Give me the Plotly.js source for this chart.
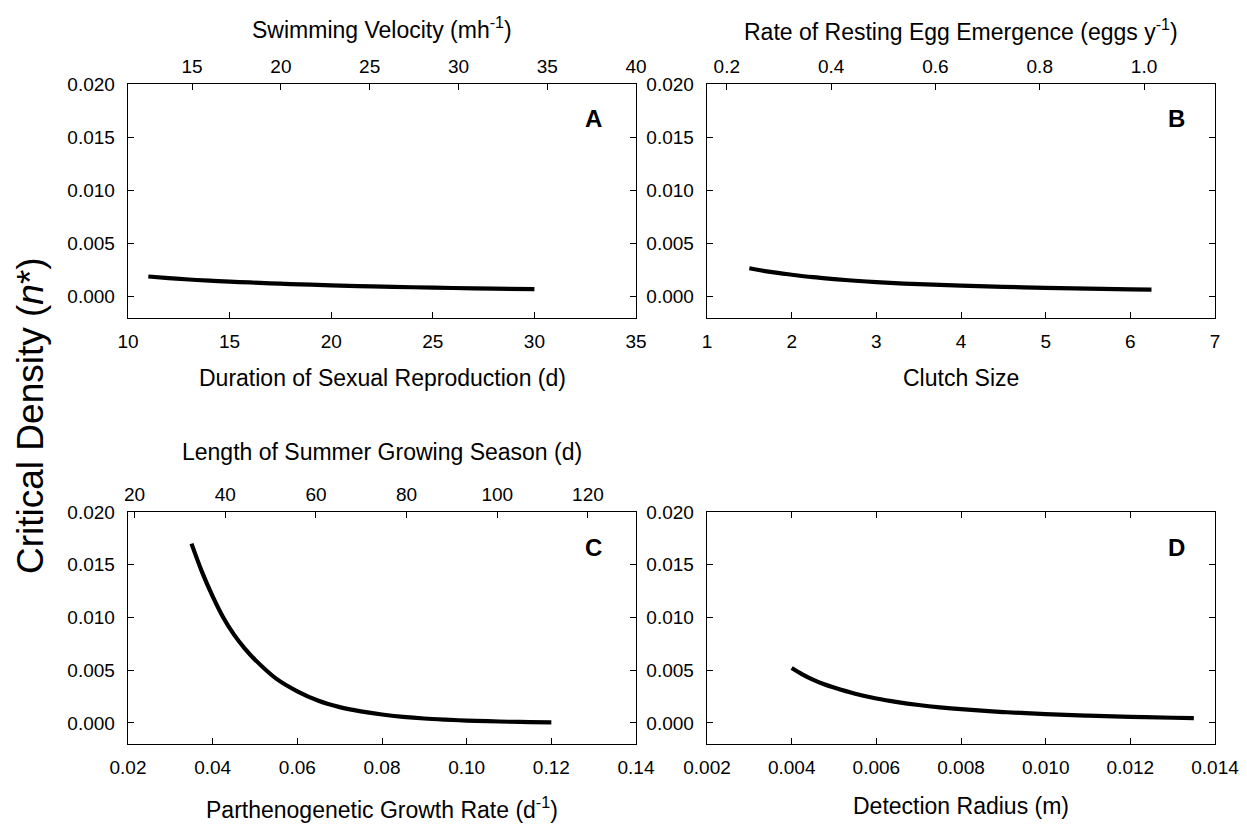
<!DOCTYPE html>
<html>
<head>
<meta charset="utf-8">
<script src="https://cdn.plot.ly/plotly-3.0.1.min.js"></script>
<style>html,body{margin:0;padding:0;background:#fff;} #chart{width:1247px;height:825px;}</style>
</head>
<body>
<div id="chart"></div>
<script>
// ---- data ----
const durationX = [11,12,13,14,15,16,17,18,19,20,22,24,26,28,30];
const durationY = [0.00190,0.00175,0.00162,0.00151,0.00142,0.00134,0.00126,0.00119,0.00113,0.00107,0.00097,0.00089,0.00082,0.00076,0.00071];

const clutchX = [1.5,1.75,2,2.25,2.5,2.75,3,3.5,4,4.5,5,5.5,6,6.25];
const clutchY = [0.00268,0.00233,0.00207,0.00184,0.00166,0.00150,0.00137,0.00118,0.00104,0.00093,0.00084,0.00076,0.00069,0.00066];

const growthX = [0.035,0.0375,0.04,0.0425,0.045,0.0475,0.05,0.055,0.06,0.065,0.07,0.075,0.08,0.085,0.09,0.095,0.10,0.105,0.11,0.115,0.12];
const growthY = [0.0170,0.0143,0.0120,0.0100,0.0084,0.0071,0.0060,0.0042,0.0030,0.0021,0.0015,0.0011,0.0008,0.00058,0.00042,0.00031,0.00022,0.00016,0.00011,0.00008,0.00005];

const radiusX = [0.004,0.00425,0.0045,0.00475,0.005,0.0055,0.006,0.0065,0.007,0.0075,0.008,0.009,0.010,0.011,0.012,0.013,0.0135];
const radiusY = [0.0052,0.00461,0.00411,0.00369,0.00335,0.00276,0.00231,0.00197,0.0017,0.00148,0.0013,0.00103,0.00083,0.00069,0.00058,0.00049,0.00046];

const panelLetters = ["A","B","C","D"];
const bottomTitles = ["Duration of Sexual Reproduction (d)","Clutch Size","Parthenogenetic Growth Rate (d<sup>-1</sup>)","Detection Radius (m)"];
const topTitles = ["Swimming Velocity (mh<sup>-1</sup>)","Rate of Resting Egg Emergence (eggs y<sup>-1</sup>)","Length of Summer Growing Season (d)"];
const yTitle = "Critical Density (<i>n</i>*)";

// ---- layout helpers ----
const W = 1247, H = 825;
const px = v => v / W;
const py = v => 1 - v / H;
const FONT = "Liberation Sans, Arial, Helvetica, sans-serif";
const TICKF = {family: FONT, size: 19, color: "#000"};

const colL = [px(128), px(636)], colR = [px(707), px(1215)];
const rowT = [py(318), py(84)], rowB = [py(744), py(512)];

function xax(domain, range, dtick, fmt, anchor, mirror) {
  return {domain, range, dtick, tick0: 0, tickformat: fmt, anchor,
    showgrid: false, zeroline: false, showline: true, linecolor: "#000", linewidth: 1.3,
    ticks: "inside", ticklen: 6, tickwidth: 1, tickcolor: "#000", mirror: mirror,
    tickfont: TICKF, ticklabelstandoff: 6, fixedrange: true};
}
function topax(over, anchor, range, dtick, fmt) {
  return {overlaying: over, anchor, side: "top", range, dtick, tick0: 0, tickformat: fmt,
    showgrid: false, zeroline: false, showline: false,
    ticks: "inside", ticklen: 6, tickwidth: 1, tickcolor: "#000",
    tickfont: TICKF, ticklabelstandoff: 6, fixedrange: true};
}
function yax(domain, anchor) {
  return {domain, range: [-0.002, 0.020], dtick: 0.005, tick0: 0, tickformat: ".3f", anchor,
    showgrid: false, zeroline: false, showline: true, linecolor: "#000", linewidth: 1.3,
    ticks: "inside", ticklen: 6, tickwidth: 1, tickcolor: "#000", mirror: "ticks",
    tickfont: TICKF, ticklabelstandoff: 8, fixedrange: true};
}

const lineStyle = {color: "#000", width: 4.2, shape: "spline", smoothing: 1};
const traces = [
  {x: durationX, y: durationY, xaxis: "x", yaxis: "y", mode: "lines", line: lineStyle},
  {x: clutchX, y: clutchY, xaxis: "x2", yaxis: "y2", mode: "lines", line: lineStyle},
  {x: growthX, y: growthY, xaxis: "x3", yaxis: "y3", mode: "lines", line: lineStyle},
  {x: radiusX, y: radiusY, xaxis: "x4", yaxis: "y4", mode: "lines", line: lineStyle},
  // empty traces so the secondary (top) axes are drawn
  {x: [], y: [], xaxis: "x5", yaxis: "y", mode: "lines", hoverinfo: "skip"},
  {x: [], y: [], xaxis: "x6", yaxis: "y2", mode: "lines", hoverinfo: "skip"},
  {x: [], y: [], xaxis: "x7", yaxis: "y3", mode: "lines", hoverinfo: "skip"}
];

const TITLEF = {family: FONT, size: 23, color: "#000"};
const ann = [];
const titleX = [382, 961, 382, 961];
const bottomY = [378, 378, 808, 806];
bottomTitles.forEach((t, i) => ann.push({text: t, x: px(titleX[i]), y: py(bottomY[i]), xref: "paper", yref: "paper", showarrow: false, font: TITLEF, xanchor: "center", yanchor: "middle"}));
const topY = [28, 30, 452];
topTitles.forEach((t, i) => ann.push({text: t, x: px(titleX[i]), y: py(topY[i]), xref: "paper", yref: "paper", showarrow: false, font: TITLEF, xanchor: "center", yanchor: "middle"}));
const letX = [593, 1176, 593, 1176], letY = [118, 118, 547, 547];
panelLetters.forEach((t, i) => ann.push({text: "<b>" + t + "</b>", x: px(letX[i]), y: py(letY[i]), xref: "paper", yref: "paper", showarrow: false, font: {family: FONT, size: 24, color: "#000"}, xanchor: "center", yanchor: "middle"}));
ann.push({text: yTitle, x: px(30), y: py(416), xref: "paper", yref: "paper", showarrow: false, textangle: -90, font: {family: FONT, size: 37, color: "#000"}, xanchor: "center", yanchor: "middle"});

const layout = {
  width: W, height: H, showlegend: false,
  margin: {l: 0, r: 0, t: 0, b: 0},
  paper_bgcolor: "#fff", plot_bgcolor: "#fff",
  font: {family: FONT, color: "#000"},
  xaxis:  xax(colL, [10, 35], 5, "d", "y", true),
  xaxis2: xax(colR, [1, 7], 1, "d", "y2", true),
  xaxis3: xax(colL, [0.02, 0.14], 0.02, ".2f", "y3", true),
  xaxis4: xax(colR, [0.002, 0.014], 0.002, ".3f", "y4", "ticks"),
  xaxis5: topax("x", "y", [11.39, 40], 5, "d"),
  xaxis6: topax("x2", "y2", [0.162, 1.136], 0.2, ".1f"),
  xaxis7: topax("x3", "y3", [18.54, 130.6], 20, "d"),
  yaxis:  yax(rowT, "x"),
  yaxis2: yax(rowT, "x2"),
  yaxis3: yax(rowB, "x3"),
  yaxis4: yax(rowB, "x4"),
  annotations: ann
};

Plotly.newPlot("chart", traces, layout, {displayModeBar: false, staticPlot: true});
</script>
</body>
</html>
